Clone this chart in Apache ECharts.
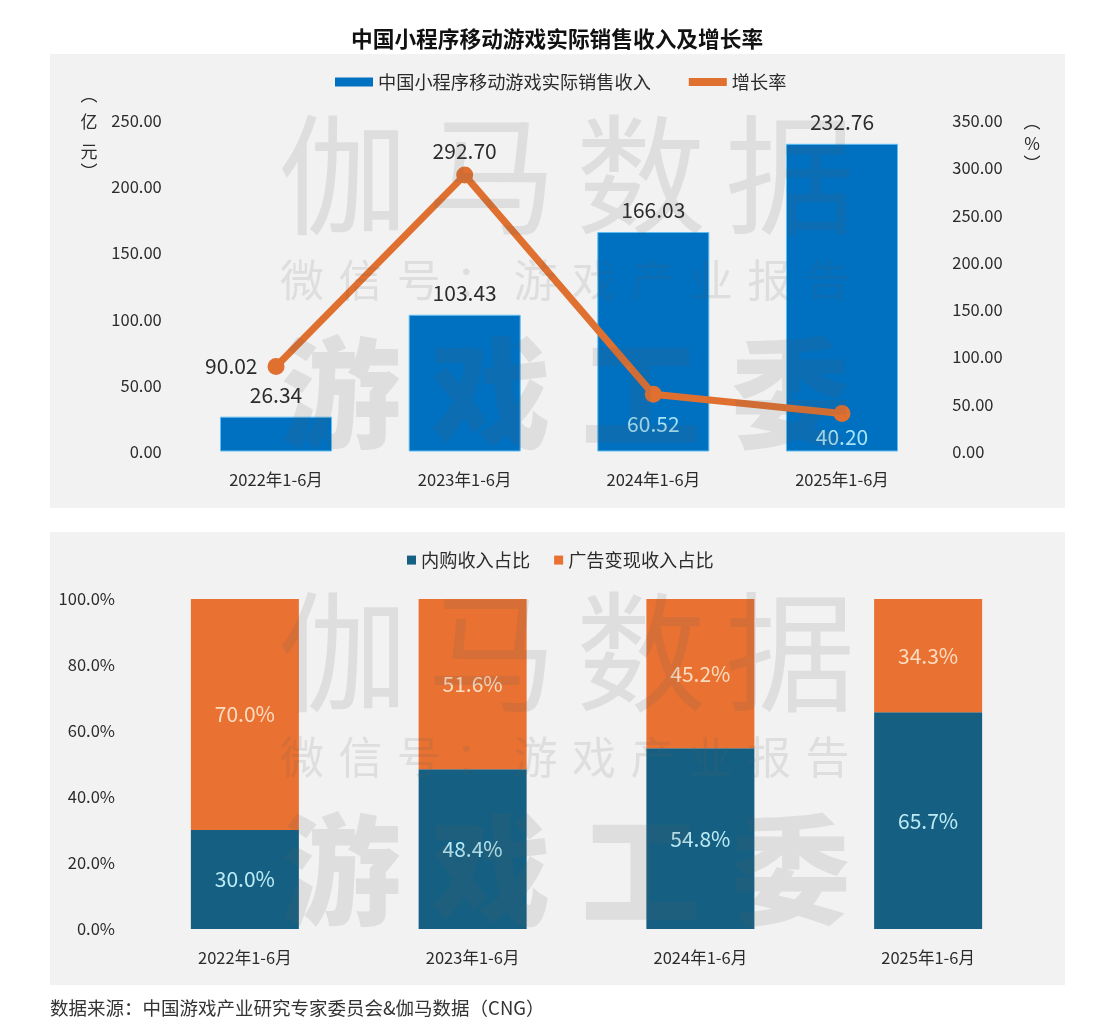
<!DOCTYPE html>
<html>
<head>
<meta charset="utf-8">
<title>中国小程序移动游戏实际销售收入及增长率</title>
<script src="https://cdn.jsdelivr.net/npm/echarts@6/dist/echarts.min.js"></script>
<style>
  html, body { margin: 0; padding: 0; background: #fff; }
  #chart { width: 1101px; height: 1029px; }
</style>
</head>
<body>
<div id="chart"></div>
<script>
// 数据
const categories = ["2022年1-6月", "2023年1-6月", "2024年1-6月", "2025年1-6月"];
const revenue = [26.34, 103.43, 166.03, 232.76];
const growthRate = [90.02, 292.7, 60.52, 40.2];
const inAppShare = [30.0, 48.4, 54.8, 65.7];
const adShare = [70.0, 51.6, 45.2, 34.3];

const CJK = "'Noto Sans CJK SC', sans-serif";
const TEXT = "#2b2b2b";

// 水印，一个字一个字放
function mark(chars, startX, step, y, size, weight) {
  return chars.split("").map((c, i) => ({
    type: "text",
    z: 50,
    silent: true,
    style: {
      text: c,
      x: startX + i * step,
      y: y,
      align: "center",
      verticalAlign: "middle",
      font: weight + " " + size + "px " + CJK,
      fill: "rgba(90,90,90,0.13)",
    },
  }));
}
function watermark(dy) {
  return [
    ...mark("伽马数据", 343, 149, 175 + dy, 130, 400),
    ...mark("微信号：游戏产业报告", 302, 58.4, 280 + dy, 44, 400),
    ...mark("游戏工委", 341, 150, 393 + dy, 120, 900),
  ];
}
function panel(y, h) {
  return { type: "rect", z: -10, silent: true, shape: { x: 50, y: y, width: 1015, height: h }, style: { fill: "#f2f2f2" } };
}
function unitText(text, x, y) {
  return {
    type: "text",
    z: 10,
    style: { text: text, x: x, y: y, align: "center", verticalAlign: "middle", font: "17px " + CJK, fill: TEXT },
  };
}

// 折线标签各自的位置不一样
const growthLabels = [
  { position: "left", distance: 10, color: TEXT },
  { position: "top", distance: 5, color: TEXT },
  { position: "bottom", distance: 11, color: "#a8e4f7" },
  { position: "bottom", distance: 4, color: "#a8e4f7" },
];

const xAxisCommon = {
  type: "category",
  data: categories,
  axisLine: { show: false },
  axisTick: { show: false },
  axisLabel: { color: TEXT, fontSize: 16.5, fontFamily: CJK, margin: 20 },
};
const yAxisCommon = {
  type: "value",
  min: 0,
  splitLine: { show: false },
  axisLine: { show: false },
  axisTick: { show: false },
  axisLabel: { color: TEXT, fontSize: 16.5, fontFamily: CJK },
};

const option = {
  animation: false,
  title: {
    text: "中国小程序移动游戏实际销售收入及增长率",
    left: 346,
    top: 23,
    textStyle: { fontFamily: CJK, fontSize: 21.7, fontWeight: "bold", color: "#111" },
  },
  legend: [
    {
      left: 330,
      top: 68,
      itemWidth: 38,
      itemHeight: 9,
      itemGap: 34,
      lineStyle: { width: 8 },
      textStyle: { fontFamily: CJK, fontSize: 18.2, color: TEXT },
      data: [
        { name: "中国小程序移动游戏实际销售收入", icon: "rect", itemStyle: { borderWidth: 0 } },
        { name: "增长率" },
      ],
    },
    {
      left: 402,
      top: 546,
      itemWidth: 9,
      itemHeight: 9,
      itemGap: 24,
      icon: "rect",
      textStyle: { fontFamily: CJK, fontSize: 18.2, color: TEXT },
      data: ["内购收入占比", "广告变现收入占比"],
    },
  ],
  grid: [
    { left: 181.7, width: 754.6, top: 121, height: 330.5 },
    { left: 131, width: 911, top: 599, height: 330 },
  ],
  xAxis: [
    { ...xAxisCommon, gridIndex: 0 },
    { ...xAxisCommon, gridIndex: 1 },
  ],
  yAxis: [
    {
      ...yAxisCommon,
      gridIndex: 0,
      max: 250,
      interval: 50,
      axisLabel: { ...yAxisCommon.axisLabel, margin: 20, formatter: (v) => v.toFixed(2) },
    },
    {
      ...yAxisCommon,
      gridIndex: 0,
      position: "right",
      max: 350,
      interval: 50,
      axisLabel: { ...yAxisCommon.axisLabel, margin: 16, formatter: (v) => v.toFixed(2) },
    },
    {
      ...yAxisCommon,
      gridIndex: 1,
      max: 100,
      interval: 20,
      axisLabel: { ...yAxisCommon.axisLabel, margin: 16, formatter: (v) => v.toFixed(1) + "%" },
    },
  ],
  series: [
    {
      name: "中国小程序移动游戏实际销售收入",
      type: "bar",
      xAxisIndex: 0,
      yAxisIndex: 0,
      barWidth: 112,
      data: revenue,
      itemStyle: { color: "#0070c0", borderColor: "#5fbdf0", borderWidth: 1 },
      label: {
        show: true,
        position: "top",
        distance: 11,
        fontFamily: CJK,
        fontSize: 21,
        color: TEXT,
        formatter: (p) => p.value.toFixed(2),
      },
    },
    {
      name: "增长率",
      type: "line",
      xAxisIndex: 0,
      yAxisIndex: 1,
      symbol: "circle",
      symbolSize: 17,
      z: 5,
      lineStyle: { color: "#e0702f", width: 7 },
      itemStyle: { color: "#e0702f" },
      data: growthRate.map((v, i) => ({ value: v, label: growthLabels[i] })),
      label: {
        show: true,
        fontFamily: CJK,
        fontSize: 21,
        formatter: (p) => p.value.toFixed(2),
      },
    },
    {
      name: "内购收入占比",
      type: "bar",
      stack: "share",
      xAxisIndex: 1,
      yAxisIndex: 2,
      barWidth: 108,
      data: inAppShare,
      itemStyle: { color: "#156082" },
      label: {
        show: true,
        position: "inside",
        fontFamily: CJK,
        fontSize: 21,
        color: "#bcebf5",
        formatter: (p) => p.value.toFixed(1) + "%",
      },
    },
    {
      name: "广告变现收入占比",
      type: "bar",
      stack: "share",
      xAxisIndex: 1,
      yAxisIndex: 2,
      barWidth: 108,
      data: adShare,
      itemStyle: { color: "#e97132" },
      label: {
        show: true,
        position: "inside",
        fontFamily: CJK,
        fontSize: 21,
        color: "#fbdcc0",
        formatter: (p) => p.value.toFixed(1) + "%",
      },
    },
  ],
  graphic: [
    panel(54, 454),
    panel(532, 453),
    unitText("︵", 89, 94.5),
    unitText("亿", 89, 122),
    unitText("元", 89, 152),
    unitText("︶", 89, 171.5),
    unitText("︵", 1032, 121.5),
    unitText("%", 1032, 144),
    unitText("︶", 1032, 163.5),
    {
      type: "text",
      style: {
        text: "数据来源：中国游戏产业研究专家委员会&伽马数据（CNG）",
        x: 50,
        y: 1008,
        verticalAlign: "middle",
        font: "18.5px " + CJK,
        fill: "#333",
      },
    },
    ...watermark(0),
    ...watermark(477),
  ],
};

const mychart = echarts.init(document.getElementById("chart"));
mychart.setOption(option);
</script>
</body>
</html>
